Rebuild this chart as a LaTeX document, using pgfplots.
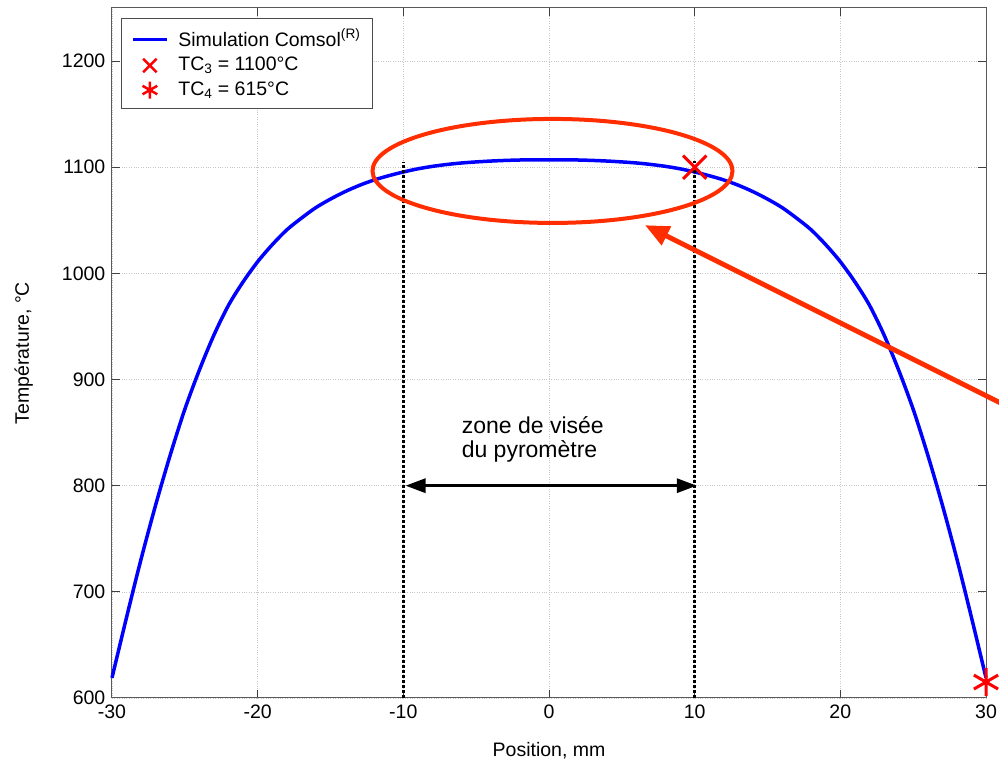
\documentclass[border=0pt]{standalone}
\usepackage{pgfplots}
\pgfplotsset{compat=1.18}
\usepackage{fontspec}
\setmainfont{Liberation Sans}
\usetikzlibrary{arrows.meta}
\definecolor{annot}{RGB}{255,45,0}
\definecolor{curveblue}{RGB}{0,0,255}
\pgfplotsset{
  legline/.style={legend image code/.code={\draw[##1, line width=3pt] (0pt,0pt) -- (34pt,0pt);}},
  legx/.style={legend image code/.code={\draw[##1, mark size=9.5pt, line width=2.5pt] plot coordinates {(17pt,0pt)};}},
  legast/.style={legend image code/.code={\draw[##1, mark size=8.5pt, line width=2.5pt] plot coordinates {(17pt,0pt)};}},
}
\begin{document}
\fontsize{19.5}{23}\selectfont
\begin{tikzpicture}
\begin{axis}[name=ax, scale only axis, width=874pt, height=690pt,
  xmin=-30, xmax=30, ymin=600, ymax=1250,
  xtick={-30,-20,...,30}, ytick={600,700,...,1200},
  grid=major, grid style={dotted, black!22, line width=0.6pt},
  axis line style={black!65, line width=1pt},
  tick style={black!75, line width=1pt}, major tick length=8pt,
  /pgf/number format/assume math mode=true,
  /pgf/number format/1000 sep={},
  xlabel={Position, mm}, ylabel={Température, °C},
  xlabel style={at={(axis description cs:0.5,-0.076)}, anchor=center},
  ylabel style={at={(axis description cs:-0.101,0.5)}, anchor=center},
  clip=false,
  legend style={at={(axis description cs:0.0103,0.9855)}, anchor=north west,
    draw=black!70, line width=0.8pt, fill=white, row sep=4pt, column sep=8pt,
    inner xsep=10pt, inner ysep=8.5pt, cells={anchor=west}},
]
\addplot[curveblue, line width=3.5pt, smooth, legline]
coordinates {
(-30,619) (-29,676) (-28,731) (-27,782) (-26,829) (-25,872) (-24,909) (-23,942)
(-22,970) (-21,992) (-20,1011) (-19,1027) (-18,1041) (-17,1052) (-16,1062)
(-15,1070) (-14,1077) (-13,1083) (-12,1088) (-11,1092) (-10,1095.5) (-9,1098.5)
(-8,1100.8) (-7,1102.6) (-6,1104) (-5,1105) (-4,1105.8) (-3,1106.4) (-2,1106.8)
(-1,1107) (0,1107) (1,1107) (2,1106.8) (3,1106.4) (4,1105.8) (5,1105) (6,1104)
(7,1102.6) (8,1100.8) (9,1098.5) (10,1095.5) (11,1092) (12,1088) (13,1083)
(14,1077) (15,1070) (16,1062) (17,1052) (18,1041) (19,1027) (20,1011) (21,992)
(22,970) (23,942) (24,909) (25,872) (26,829) (27,782) (28,731) (29,676) (30,619)
};
\addlegendentry{Simulation Comsol\textsuperscript{(R)}}
\addplot[only marks, red, mark=x, mark size=16.5pt, line width=3pt, legx]
coordinates {(10,1100)};
\addlegendentry{TC\textsubscript{3} = 1100°C}
\addplot[only marks, red, mark=asterisk, mark size=14pt, line width=3pt, legast]
coordinates {(30,615)};
\addlegendentry{TC\textsubscript{4} = 615°C}
\addplot[black, line width=3pt, dash pattern=on 3pt off 2pt, forget plot]
coordinates {(-10,600) (-10,1105)};
\addplot[black, line width=3pt, dash pattern=on 3pt off 2pt, forget plot]
coordinates {(10,600) (10,1106)};
\draw[{Triangle[length=20pt,width=14pt]}-{Triangle[length=20pt,width=14pt]}, line width=3pt, black]
  (axis cs:-9.85,800) -- (axis cs:10.15,800);
\node[anchor=base west, inner sep=0pt, font=\fontsize{23}{25}\selectfont]
  at (axis cs:-6,849.6) {zone de visée};
\node[anchor=base west, inner sep=0pt, font=\fontsize{23}{25}\selectfont]
  at (axis cs:-6,826.1) {du pyromètre};
\draw[annot, line width=4pt] (axis cs:0.24,1096.5) ellipse [x radius=180pt, y radius=52pt];
\draw[annot, line width=5pt, -{Triangle[length=24pt,width=20pt]}]
  (axis cs:32.33,868.8) -- (axis cs:6.59,1045.4);
\end{axis}
\pgfresetboundingbox
\path[use as bounding box] ([xshift=-112pt,yshift=-67pt]ax.south west) rectangle ([xshift=13pt,yshift=8pt]ax.north east);
\end{tikzpicture}
\end{document}
